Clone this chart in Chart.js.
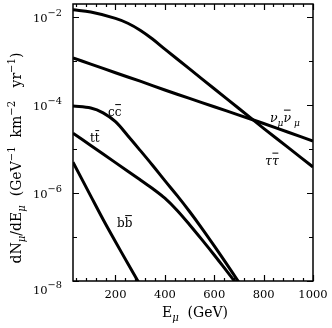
<!DOCTYPE html>
<html>
<head>
<meta charset="utf-8">
<script src="https://cdn.jsdelivr.net/npm/chart.js@4"></script>
<style>
  html, body { margin:0; padding:0; background:#fff; }
  #wrap { width:332px; height:328px; }
</style>
</head>
<body>
<div id="wrap"><canvas id="flux"></canvas></div>
<script>
// muon flux per annihilation channel
const tauE      = [28, 100, 200, 250, 300, 350, 400, 500, 600, 700, 800, 900, 1000];
const tauFlux   = [1.45e-2, 1.29e-2, 9.3e-3, 7.2e-3, 5.0e-3, 3.16e-3, 1.86e-3, 6.6e-4, 2.34e-4, 8.3e-5, 2.95e-5, 1.07e-5, 3.9e-6];

const nuE       = [28, 100, 200, 300, 400, 500, 600, 700, 800, 900, 1000];
const nuFlux    = [1.17e-3, 8.5e-4, 5.4e-4, 3.47e-4, 2.19e-4, 1.41e-4, 9.1e-5, 5.9e-5, 3.8e-5, 2.4e-5, 1.51e-5];

const charmE    = [28, 100, 150, 200, 250, 300, 350, 400, 450, 500, 550, 600, 650, 700];
const charmFlux = [9.5e-5, 8.5e-5, 6.6e-5, 4.17e-5, 2.0e-5, 9.3e-6, 4.27e-6, 1.91e-6, 8.7e-7, 3.8e-7, 1.58e-7, 6.3e-8, 2.45e-8, 9.3e-9];

const topE      = [28, 100, 200, 300, 350, 400, 450, 500, 550, 600, 650, 700];
const topFlux   = [2.29e-5, 1.2e-5, 4.9e-6, 2.0e-6, 1.26e-6, 7.6e-7, 4.0e-7, 1.9e-7, 8.7e-8, 3.9e-8, 1.7e-8, 7.4e-9];

const bottomE    = [28, 100, 150, 200, 250, 300];
const bottomFlux = [5.0e-6, 8.5e-7, 2.5e-7, 7.8e-8, 2.5e-8, 8.1e-9];

// axis ticks
const xLabelTicks = [200, 400, 600, 800, 1000];
const xMinorTicks = [40, 80, 120, 160, 240, 280, 320, 360, 440, 480, 520, 560, 640, 680, 720, 760, 840, 880, 920, 960];
const yLabelTicks = [1e-2, 1e-4, 1e-6, 1e-8];
const yLabelExps  = ['\u22122', '\u22124', '\u22126', '\u22128'];
const yMinorTicks = [1e-3, 1e-5, 1e-7];

const FONT = '"DejaVu Serif", serif';

function toPoints(xs, ys){ return xs.map((x,i)=>({x, y: ys[i]})); }

// draws a run of text pieces with sub/superscripts and overbars, returns width
function drawRich(ctx, parts, x, y, size, measureOnly){
    let cx = x;
    parts.forEach(p=>{
        const small = p.sub || p.sup;
        const s = small ? size*(p.scale||0.72) : size;
        ctx.font = (p.italic ? 'italic ' : '') + s + 'px ' + FONT;
        const dy = p.sub ? size*0.28 : p.sup ? -size*(p.raise||0.45) : 0;
        const w = ctx.measureText(p.t).width;
        if (!measureOnly){
            ctx.fillText(p.t, cx, y+dy);
            if (p.bar){
                ctx.beginPath();
                ctx.lineWidth = 1;
                ctx.moveTo(cx+0.5, y-s*0.95);
                ctx.lineTo(cx+w-0.5, y-s*0.95);
                ctx.stroke();
            }
        }
        cx += w;
    });
    return cx - x;
}

const decorPlugin = {
    id: 'decor',
    afterDatasetsDraw(chart){
        const ctx = chart.ctx;
        const a = chart.chartArea;
        const xs = chart.scales.x, ys = chart.scales.y;
        ctx.save();
        ctx.fillStyle = '#000';
        ctx.strokeStyle = '#000';

        // frame
        ctx.lineWidth = 1.5;
        ctx.strokeRect(a.left, a.top, a.right-a.left, a.bottom-a.top);

        // inward ticks
        ctx.lineWidth = 1.2;
        ctx.beginPath();
        const xt = (v, len)=>{
            const p = Math.round(xs.getPixelForValue(v))+0.5;
            ctx.moveTo(p, a.bottom); ctx.lineTo(p, a.bottom-len);
            ctx.moveTo(p, a.top); ctx.lineTo(p, a.top+len);
        };
        const yt = (v, len)=>{
            const p = Math.round(ys.getPixelForValue(v))+0.5;
            ctx.moveTo(a.left, p); ctx.lineTo(a.left+len, p);
            ctx.moveTo(a.right, p); ctx.lineTo(a.right-len, p);
        };
        xLabelTicks.forEach(v=>xt(v, 6));
        xMinorTicks.forEach(v=>xt(v, 3));
        yLabelTicks.forEach(v=>yt(v, 6));
        yMinorTicks.forEach(v=>yt(v, 4));
        ctx.stroke();

        // x tick labels
        ctx.textBaseline = 'alphabetic';
        ctx.textAlign = 'center';
        ctx.font = '11.5px ' + FONT;
        xLabelTicks.forEach(v=>{
            ctx.fillText(String(v), xs.getPixelForValue(v), a.bottom+17);
        });

        // y tick labels 10^n
        ctx.textAlign = 'left';
        yLabelTicks.forEach((v,i)=>{
            const parts = [{t:'10'}, {t:yLabelExps[i], sup:true, scale:0.85, raise:0.5}];
            const w = drawRich(ctx, parts, 0, 0, 11.5, true);
            const py = ys.getPixelForValue(v) + (i === yLabelTicks.length-1 ? 13 : 5);
            drawRich(ctx, parts, a.left-11-w, py, 11.5);
        });

        // axis titles
        const xTitle = [{t:'E'}, {t:'\u03bc', sub:true, italic:true}, {t:'  (GeV)'}];
        const xw = drawRich(ctx, xTitle, 0, 0, 14, true);
        drawRich(ctx, xTitle, 195 - xw/2, 317, 14);

        const yTitle = [{t:'dN'}, {t:'\u03bc', sub:true, italic:true}, {t:'/dE'}, {t:'\u03bc', sub:true, italic:true},
            {t:'  (GeV'}, {t:'\u22121', sup:true}, {t:'  km'}, {t:'\u22122', sup:true}, {t:'   yr'}, {t:'\u22121', sup:true}, {t:')'}];
        const yw = drawRich(ctx, yTitle, 0, 0, 14, true);
        ctx.save();
        ctx.translate(21, 158);
        ctx.rotate(-Math.PI/2);
        drawRich(ctx, yTitle, -yw/2, 0, 14);
        ctx.restore();

        // curve labels
        drawRich(ctx, [{t:'c'}, {t:'c', bar:true}], 108, 116, 12);
        drawRich(ctx, [{t:'t'}, {t:'t', bar:true}], 90, 142, 12);
        drawRich(ctx, [{t:'b'}, {t:'b', bar:true}], 117, 227, 12);
        drawRich(ctx, [{t:'\u03bd', italic:true}, {t:'\u03bc', sub:true, italic:true}, {t:'\u03bd', italic:true, bar:true}, {t:' \u03bc', sub:true, italic:true}], 270, 122, 12.5);
        drawRich(ctx, [{t:'\u03c4', italic:true}, {t:'\u03c4', italic:true, bar:true}], 265, 165, 12.5);

        ctx.restore();
    }
};

const series = [
    {name:'tau',    xs:tauE,    ys:tauFlux},
    {name:'numu',   xs:nuE,     ys:nuFlux},
    {name:'charm',  xs:charmE,  ys:charmFlux},
    {name:'top',    xs:topE,    ys:topFlux},
    {name:'bottom', xs:bottomE, ys:bottomFlux}
];

new Chart(document.getElementById('flux'), {
    type: 'scatter',
    data: {
        datasets: series.map(s=>({
            label: s.name,
            data: toPoints(s.xs, s.ys),
            showLine: true,
            borderColor: '#000',
            borderWidth: 3,
            pointRadius: 0,
            tension: 0.35,
            fill: false
        }))
    },
    options: {
        responsive: true,
        maintainAspectRatio: false,
        animation: false,
        events: [],
        layout: { padding: { left: 73, right: 19, top: 4, bottom: 47 } },
        plugins: { legend: { display: false }, tooltip: { enabled: false } },
        scales: {
            x: { type: 'linear', display: false, min: 28, max: 1000 },
            y: { type: 'logarithmic', display: false, min: 1e-8, max: 0.0197 }
        }
    },
    plugins: [decorPlugin]
});
</script>
</body>
</html>
